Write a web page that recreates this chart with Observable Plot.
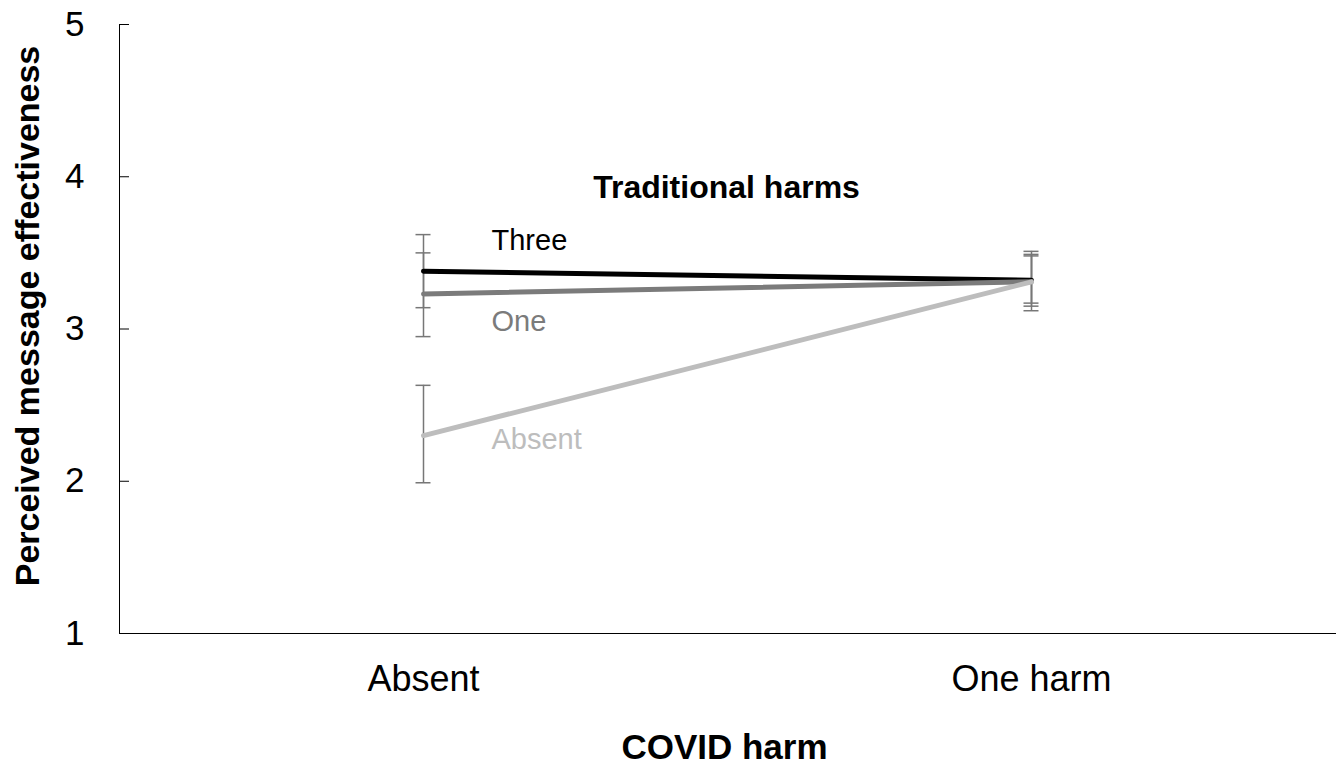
<!DOCTYPE html>
<html>
<head>
<meta charset="utf-8">
<script src="https://cdn.jsdelivr.net/npm/d3@7"></script>
<script src="https://cdn.jsdelivr.net/npm/@observablehq/plot@0.6"></script>
<style>
  body { margin: 0; background: #fff; }
  #chart svg { display: block; }
</style>
</head>
<body>
<div id="chart"></div>
<script>
// Categories
const covidHarm = ["Absent", "One harm"];
const series = ["Three", "One", "Absent"];
const seriesColors = ["#000000", "#7b7b7b", "#bdbdbd"];
const yTicks = [1, 2, 3, 4, 5];

// Means per series (Absent, One harm)
const meanThree = [3.38, 3.32];
const meanOne = [3.23, 3.31];
const meanAbsent = [2.30, 3.31];

// Error bar bounds
const lowThree = [3.14, 3.12];
const highThree = [3.62, 3.51];
const lowOne = [2.95, 3.17];
const highOne = [3.50, 3.48];
const lowAbsent = [1.99, 3.15];
const highAbsent = [2.63, 3.49];

// Label positions (y value) for series annotations
const labelY = [3.58, 3.05, 2.27];
const legendTitle = "Traditional harms";
const legendTitleY = 3.93;

const means = [meanThree, meanOne, meanAbsent];
const lows = [lowThree, lowOne, lowAbsent];
const highs = [highThree, highOne, highAbsent];

const rows = [];
series.forEach((s, i) => {
  covidHarm.forEach((h, j) => {
    rows.push({series: s, harm: h, mean: means[i][j], low: lows[i][j], high: highs[i][j]});
  });
});
const labels = series.map((s, i) => ({series: s, y: labelY[i], color: seriesColors[i]}));

const errColor = "#777";

const chart = Plot.plot({
  width: 1339,
  height: 778,
  marginLeft: 119,
  marginRight: 4,
  marginTop: 24,
  marginBottom: 145,
  style: {fontFamily: "'Liberation Sans', Arial, Helvetica, sans-serif", background: "#fff", color: "#000"},
  x: {type: "point", domain: covidHarm, padding: 0.5},
  y: {domain: [1, 5]},
  color: {domain: series, range: seriesColors},
  marks: [
    Plot.axisY({ticks: yTicks, tickSize: -10, tickPadding: 45, fontSize: 35, label: null, tickFormat: d3.format("d")}),
    Plot.axisX({tickSize: 0, tickPadding: 32, fontSize: 36, label: null}),
    Plot.frame({anchor: "left"}),
    Plot.frame({anchor: "bottom"}),
    Plot.ruleX(rows, {x: "harm", y1: "low", y2: "high", stroke: errColor, strokeWidth: 1.5}),
    Plot.ruleY(rows, {x1: "harm", x2: "harm", y: "low", insetLeft: -7.5, insetRight: -7.5, stroke: errColor, strokeWidth: 1.5}),
    Plot.ruleY(rows, {x1: "harm", x2: "harm", y: "high", insetLeft: -7.5, insetRight: -7.5, stroke: errColor, strokeWidth: 1.5}),
    Plot.line(rows, {x: "harm", y: "mean", z: "series", stroke: "series", strokeWidth: 5}),
    Plot.text(labels, {x: () => covidHarm[0], y: "y", text: "series", fill: "color", dx: 68, textAnchor: "start", fontSize: 29}),
    Plot.text([legendTitle], {x: () => covidHarm[0], y: () => legendTitleY, text: d => d, dx: 303, fontSize: 32, fontWeight: "bold", fill: "#000"}),
    Plot.text(["Perceived message effectiveness"], {frameAnchor: "left", text: d => d, rotate: -90, textAnchor: "middle", dx: -91, dy: -13, fontSize: 34, fontWeight: "bold", fill: "#000"}),
    Plot.text(["COVID harm"], {frameAnchor: "bottom", text: d => d, dy: 125, dx: -3, fontSize: 35, fontWeight: "bold", fill: "#000"})
  ]
});
document.getElementById("chart").appendChild(chart);
</script>
</body>
</html>
